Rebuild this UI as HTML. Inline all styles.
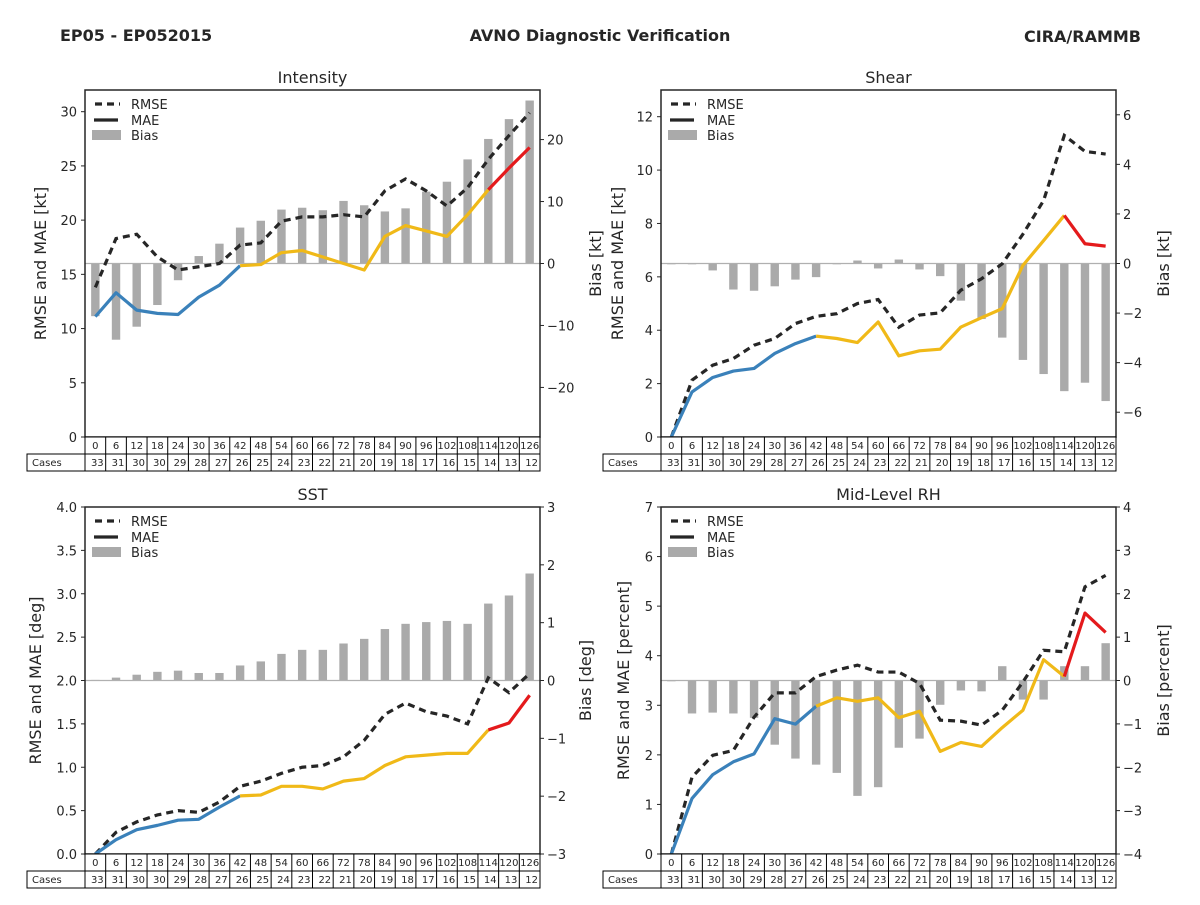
<!DOCTYPE html>
<html><head><meta charset="utf-8"><style>
body{margin:0;background:#fff;}
svg text{font-family:"DejaVu Sans","Liberation Sans",sans-serif;fill:#262626;}
</style></head><body>
<svg id="fig" width="1200" height="900" viewBox="0 0 1200 900" xmlns="http://www.w3.org/2000/svg">
<rect width="1200" height="900" fill="#fff"/>
<text x="60" y="41" font-size="16" font-weight="bold">EP05 - EP052015</text>
<text x="600" y="41" font-size="16" font-weight="bold" text-anchor="middle">AVNO Diagnostic Verification</text>
<text x="1141" y="42" font-size="16" font-weight="bold" text-anchor="end">CIRA/RAMMB</text>
</svg>
<script>
const leadTimes=[0,6,12,18,24,30,36,42,48,54,60,66,72,78,84,90,96,102,108,114,120,126];
const cases=[33,31,30,30,29,28,27,26,25,24,23,22,21,20,19,18,17,16,15,14,13,12];
const intRmse=[13.8,18.3,18.7,16.6,15.4,15.7,16.0,17.7,17.9,19.9,20.3,20.3,20.5,20.3,22.7,23.8,22.7,21.3,23.0,25.6,27.8,29.9];
const intMae=[11.1,13.3,11.7,11.4,11.3,12.9,14.0,15.8,15.9,17.0,17.2,16.6,16.0,15.4,18.5,19.5,19.0,18.5,20.5,22.8,24.8,26.7];
const intBias=[-8.5,-12.3,-10.2,-6.7,-2.7,1.2,3.2,5.8,6.9,8.7,9.0,8.6,10.1,9.4,8.4,8.9,11.6,13.2,16.8,20.1,23.3,26.3];
const shRmse=[0,2.13,2.69,2.94,3.44,3.69,4.25,4.52,4.62,5.0,5.15,4.11,4.57,4.65,5.5,5.93,6.49,7.6,8.86,11.3,10.7,10.6];
const shMae=[0,1.69,2.23,2.47,2.57,3.13,3.5,3.78,3.69,3.54,4.31,3.04,3.23,3.29,4.12,4.47,4.81,6.43,7.36,8.3,7.24,7.15];
const shBias=[-0.02,-0.02,-0.28,-1.05,-1.1,-0.92,-0.65,-0.55,-0.02,0.12,-0.2,0.16,-0.24,-0.51,-1.5,-2.24,-2.99,-3.89,-4.46,-5.15,-4.81,-5.55];
const sstRmse=[0,0.25,0.37,0.45,0.5,0.48,0.6,0.78,0.84,0.93,1.0,1.02,1.12,1.31,1.61,1.74,1.64,1.59,1.5,2.03,1.86,2.08];
const sstMae=[0,0.165,0.28,0.33,0.39,0.4,0.54,0.67,0.68,0.78,0.78,0.75,0.84,0.87,1.02,1.12,1.14,1.16,1.16,1.43,1.51,1.83];
const sstBias=[0.01,0.05,0.1,0.15,0.17,0.13,0.13,0.26,0.33,0.46,0.53,0.53,0.64,0.72,0.89,0.98,1.01,1.03,0.98,1.33,1.47,1.85];
const rhRmse=[0,1.55,1.99,2.09,2.76,3.25,3.25,3.58,3.71,3.81,3.67,3.67,3.44,2.7,2.68,2.6,2.9,3.47,4.11,4.08,5.39,5.62];
const rhMae=[0,1.12,1.6,1.86,2.02,2.73,2.62,2.98,3.15,3.08,3.15,2.75,2.88,2.07,2.25,2.17,2.55,2.9,3.92,3.58,4.86,4.47];
const rhBias=[-0.01,-0.76,-0.74,-0.76,-0.86,-1.48,-1.8,-1.94,-2.13,-2.66,-2.46,-1.55,-1.34,-0.56,-0.23,-0.25,0.33,-0.44,-0.44,0.33,0.33,0.86];
const intLeftTicks=[0,5,10,15,20,25,30];
const intRightTicks=[-20,-10,0,10,20];
const shLeftTicks=[0,2,4,6,8,10,12];
const shRightTicks=[-6,-4,-2,0,2,4,6];
const sstLeftTicks=[0,0.5,1,1.5,2,2.5,3,3.5,4];
const sstRightTicks=[-3,-2,-1,0,1,2,3];
const rhLeftTicks=[0,1,2,3,4,5,6,7];
const rhRightTicks=[-4,-3,-2,-1,0,1,2,3,4];

const NS="http://www.w3.org/2000/svg";
const svg=document.getElementById('fig');
function mk(tag,attrs,parent,txt){const e=document.createElementNS(NS,tag);for(const k in attrs)e.setAttribute(k,attrs[k]);if(txt!==undefined)e.textContent=txt;(parent||svg).appendChild(e);return e;}
function fmtR(v){return v<0?'\u2212'+Math.abs(v):''+v;}

function panel(p){
  const g=mk('g',{});
  
  
  const L=p.x,R=p.x+455,T=p.y,B=p.y+347,n=leadTimes.length,cw=(R-L)/n;
  const xs=i=>L+cw*(i+0.5);
  const yl=v=>B-(v-p.lmin)/(p.lmax-p.lmin)*(B-T);
  const yr=v=>B-(v-p.rmin)/(p.rmax-p.rmin)*(B-T);
  const t=mk('text',{x:(L+R)/2,y:T-7,'font-size':16,'text-anchor':'middle'},g,p.title);
  
  p.bias.forEach((v,i)=>{const y0=yr(0),y1=yr(v);
    const r=mk('rect',{x:xs(i)-4.2,y:Math.min(y0,y1),width:8.4,height:Math.max(Math.abs(y1-y0),0.8),fill:'#aaaaaa'},g);
    });
  const zl=mk('line',{x1:L,x2:R,y1:yr(0),y2:yr(0),stroke:'#b0b0b0','stroke-width':1.2},g);
  
  const rp=mk('polyline',{points:p.rmse.map((v,i)=>xs(i)+','+yl(v)).join(' '),fill:'none',stroke:'#262626','stroke-width':3.2,'stroke-dasharray':'7,5'},g);
  
  const segs=[[0,7,'#3a81ba','mae-line-blue'],[7,19,'#f0b918','mae-line-yellow'],[19,21,'#e41a1c','mae-line-red']];
  segs.forEach(s=>{const pts=[];for(let i=s[0];i<=s[1];i++)pts.push(xs(i)+','+yl(p.mae[i]));
    const m=mk('polyline',{points:pts.join(' '),fill:'none',stroke:s[2],'stroke-width':3.2,'stroke-linejoin':'round'},g);
    });
  const fr=mk('rect',{x:L,y:T,width:R-L,height:B-T,fill:'none',stroke:'#262626','stroke-width':1.5},g);
  
  p.lt.forEach(v=>{const y=yl(v);mk('line',{x1:L-4,x2:L,y1:y,y2:y,stroke:'#262626'},g);
    const tx=mk('text',{x:L-8,y:y+5,'font-size':13,'text-anchor':'end'},g,p.lfmt?v.toFixed(1):v);
    });
  p.rt.forEach(v=>{const y=yr(v);mk('line',{x1:R,x2:R+4,y1:y,y2:y,stroke:'#262626'},g);
    const tx=mk('text',{x:R+7,y:y+5,'font-size':13},g,fmtR(v));
    });
  const ll=mk('text',{x:0,y:0,'font-size':16,'text-anchor':'middle',transform:`translate(${L-p.llOff},${(T+B)/2}) rotate(-90)`},g,p.llab);
  
  const rl=mk('text',{x:0,y:0,'font-size':16,'text-anchor':'middle',transform:`translate(${R+p.rlOff},${(T+B)/2}) rotate(-90)`},g,p.rlab);
  
  const lg=mk('g',{},g);
  mk('line',{x1:L+10,x2:L+35,y1:T+14,y2:T+14,stroke:'#262626','stroke-width':3.2,'stroke-dasharray':'7,5'},lg);
  mk('line',{x1:L+9,x2:L+33,y1:T+30,y2:T+30,stroke:'#262626','stroke-width':3.2},lg);
  mk('rect',{x:L+7,y:T+40,width:29,height:10,fill:'#aaaaaa'},lg);
  mk('text',{x:L+46,y:T+19,'font-size':13},lg,'RMSE');
  mk('text',{x:L+46,y:T+35,'font-size':13},lg,'MAE');
  mk('text',{x:L+46,y:T+50,'font-size':13},lg,'Bias');
  const tb=mk('g',{},g);
  mk('rect',{x:L,y:B,width:R-L,height:17,fill:'#fff',stroke:'#000','stroke-width':1},tb);
  mk('rect',{x:L-58,y:B+17,width:R-L+58,height:17,fill:'#fff',stroke:'#000','stroke-width':1},tb);
  mk('line',{x1:L,x2:L,y1:B,y2:B+34,stroke:'#000'},tb);
  mk('text',{x:L-53,y:B+29,'font-size':10},tb,'Cases');
  leadTimes.forEach((v,i)=>{const x=L+cw*i;
    mk('line',{x1:x,x2:x,y1:B,y2:B+34,stroke:'#000'},tb);
    mk('text',{x:x+cw/2,y:B+12,'font-size':10,'text-anchor':'middle'},tb,v);
    mk('text',{x:x+cw-2,y:B+29,'font-size':10,'text-anchor':'end'},tb,cases[i]);});
}
panel({id:'intensity',title:'Intensity',x:85,y:90,lmin:0,lmax:32,rmin:-28,rmax:28,lt:intLeftTicks,rt:intRightTicks,rmse:intRmse,mae:intMae,bias:intBias,llab:'RMSE and MAE [kt]',rlab:'Bias [kt]',llOff:39,rlOff:61});
panel({id:'shear',title:'Shear',x:661,y:90,lmin:0,lmax:13,rmin:-7,rmax:7,lt:shLeftTicks,rt:shRightTicks,rmse:shRmse,mae:shMae,bias:shBias,llab:'RMSE and MAE [kt]',rlab:'Bias [kt]',llOff:38,rlOff:53});
panel({id:'sst',title:'SST',x:85,y:507,lmin:0,lmax:4,rmin:-3,rmax:3,lt:sstLeftTicks,rt:sstRightTicks,rmse:sstRmse,mae:sstMae,bias:sstBias,llab:'RMSE and MAE [deg]',rlab:'Bias [deg]',llOff:44,rlOff:51,lfmt:true});
panel({id:'mid-level-rh',title:'Mid-Level RH',x:661,y:507,lmin:0,lmax:7,rmin:-4,rmax:4,lt:rhLeftTicks,rt:rhRightTicks,rmse:rhRmse,mae:rhMae,bias:rhBias,llab:'RMSE and MAE [percent]',rlab:'Bias [percent]',llOff:32,rlOff:53});
</script>
</body></html>
